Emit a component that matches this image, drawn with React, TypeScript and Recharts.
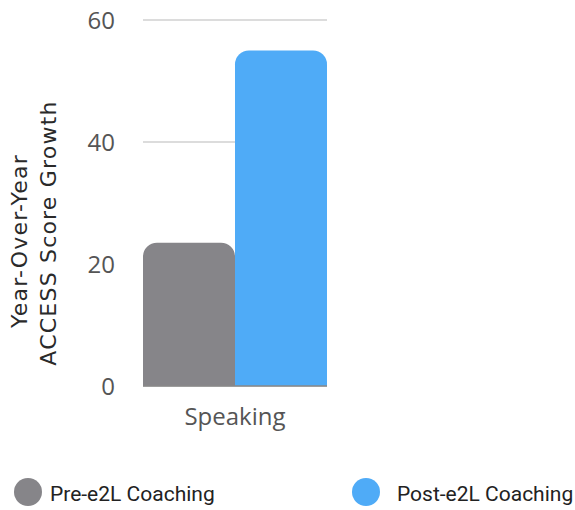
import { BarChart, Bar, XAxis, YAxis, CartesianGrid, Legend, Label } from 'recharts'

const categories = ['Speaking']
const preCoaching = [23.5]
const postCoaching = [55]
const yTicks = [0, 20, 40, 60]

const GRAY = '#868589'
const BLUE = '#4fabf7'

const data = categories.map((name, i) => ({
  name,
  pre: preCoaching[i],
  post: postCoaching[i],
}))

const series = [
  { key: 'pre', name: 'Pre-e2L Coaching', color: GRAY },
  { key: 'post', name: 'Post-e2L Coaching', color: BLUE },
]

function AxisTitle({ viewBox }: any) {
  const cy = viewBox ? viewBox.y + viewBox.height / 2 + 30 : 233
  const lines = [
    { text: 'Year-Over-Year', x: 19, dy: 8 },
    { text: 'ACCESS Score Growth', x: 48, dy: 0 },
  ]
  return (
    <g>
      {lines.map((l) => (
        <text
          key={l.text}
          x={l.x}
          y={cy + l.dy}
          transform={`rotate(-90 ${l.x} ${cy + l.dy})`}
          textAnchor="middle"
          dominantBaseline="central"
          fontFamily="'DejaVu Sans', Verdana, sans-serif"
          fontSize={22}
          letterSpacing={1.2}
          fill="#2a2a2a"
        >
          {l.text}
        </text>
      ))}
    </g>
  )
}

function LegendRow() {
  const items = [
    { cx: 28, tx: 50 },
    { cx: 366, tx: 397 },
  ]
  return (
    <svg width={575} height={64} style={{ display: 'block' }}>
      {series.map((s, i) => (
        <g key={s.key}>
          <circle cx={items[i].cx} cy={46} r={14} fill={s.color} />
          <text
            x={items[i].tx}
            y={48}
            dominantBaseline="central"
            fontFamily="Roboto, sans-serif"
            fontSize={21}
            fill="#222"
          >
            {s.name}
          </text>
        </g>
      ))}
    </svg>
  )
}

export default function App() {
  return (
    <div style={{ position: 'absolute', left: 0, top: 0, width: 575, height: 510, background: '#fff' }}>
      <BarChart
        width={575}
        height={510}
        data={data}
        margin={{ top: 20, right: 248, bottom: 0, left: 0 }}
        barCategoryGap={0}
        barGap={0}
      >
        <CartesianGrid vertical={false} stroke="#d0d0d0" strokeWidth={1.5} />
        <XAxis
          dataKey="name"
          height={60}
          tickLine={false}
          axisLine={{ stroke: '#888', strokeWidth: 1.5 }}
          tick={{ fontFamily: "'Open Sans', sans-serif", fontSize: 24, fill: '#555' }}
          tickMargin={16}
        />
        <YAxis
          width={143}
          domain={[0, 60]}
          ticks={yTicks}
          axisLine={false}
          tickLine={false}
          tickMargin={22}
          tick={{ fontFamily: "'Open Sans', sans-serif", fontSize: 24, fill: '#555' }}
        >
          <Label content={<AxisTitle />} />
        </YAxis>
        <Legend
          verticalAlign="bottom"
          height={64}
          wrapperStyle={{ left: 0, width: 575, height: 64 }}
          content={() => <LegendRow />}
        />
        {series.map((s) => (
          <Bar
            key={s.key}
            dataKey={s.key}
            name={s.name}
            fill={s.color}
            radius={[14, 14, 0, 0]}
            isAnimationActive={false}
          />
        ))}
      </BarChart>
    </div>
  )
}
